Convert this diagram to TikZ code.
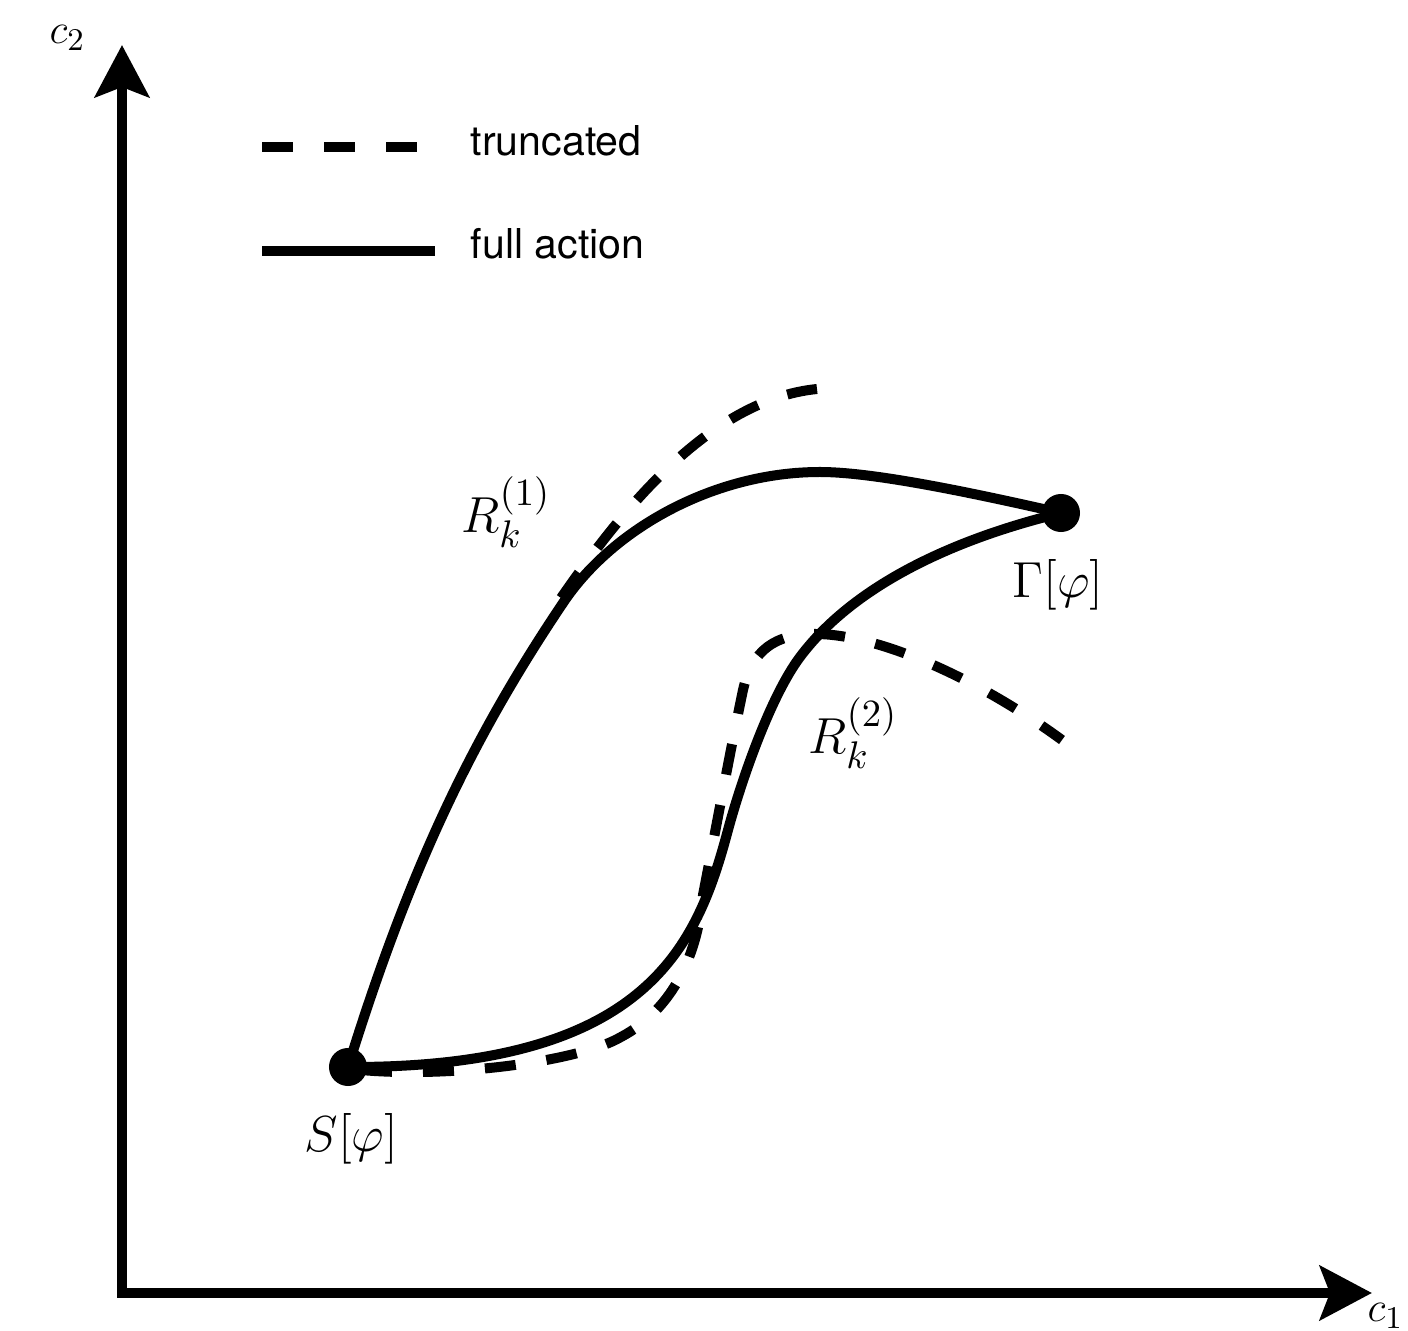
\documentclass[tikz,border=0pt]{standalone}
\usepackage{fontspec}
\newfontfamily\legendfont{TeX Gyre Heros}
\usetikzlibrary{arrows.meta}
\begin{document}
\begin{tikzpicture}[x=0.01cm,y=-0.01cm,
  axis/.style={line width=0.105cm, line join=miter},
  curve/.style={line width=0.1cm},
  dashcurve/.style={line width=0.1cm, dash pattern=on 0.31cm off 0.31cm},
  dot/.style={circle, fill=black, inner sep=0pt, minimum size=0.38cm},
  mlabel/.style={font=\fontsize{15}{18}\selectfont, inner sep=0pt, anchor=base west},
  alabel/.style={font=\fontsize{12.5}{15}\selectfont, inner sep=0pt, anchor=base west},
  leg/.style={font=\legendfont\fontsize{11.7}{14}\selectfont, inner sep=0pt, anchor=base west}]
\useasboundingbox (0,0) rectangle (1408,1331);

% axes
\coordinate (O) at (122,1293);
\coordinate (ytip) at (122,45);
\coordinate (xtip) at (1372,1293);
\draw[axis, {Stealth[length=0.52cm,width=0.54cm,inset=0.1cm]}-{Stealth[length=0.52cm,width=0.54cm,inset=0.1cm]}] (ytip) -- (O) -- (xtip);
\node[alabel] (c2) at (49,44) {$c_2$};
\node[alabel] (c1) at (1367,1322) {$c_1$};

% legend
\coordinate (d1) at (262,147); \coordinate (d2) at (418,147);
\coordinate (s1) at (262,251); \coordinate (s2) at (435,251);
\draw[dashcurve] (d1) -- (d2);
\draw[curve] (s1) -- (s2);
\node[leg] (lt) at (470,156) {truncated};
\node[leg] (lf) at (470,259) {full action};

% end points
\coordinate (Sc) at (348,1067);
\coordinate (Gc) at (1061,513);

% full action curves
\coordinate (u1) at (563,603);
\coordinate (u2) at (820,472);
\draw[curve] (Sc) .. controls (407,877) and (468,744) .. (u1)
  .. controls (613,528) and (715,472) .. (u2)
  .. controls (870,472) and (960,490) .. (Gc);
\coordinate (l2) at (728,830);
\coordinate (l3) at (800,657);
\draw[curve] (Sc) .. controls (648,1068) and (697,946) .. (l2)
  .. controls (741,782) and (770,697) .. (l3)
  .. controls (854,585) and (954,539) .. (Gc);

% truncated curves
\coordinate (ua) at (561,598);
\coordinate (ub) at (817,389);
\draw[dashcurve] (ua) .. controls (618,516) and (707,400) .. (ub);
\coordinate (la) at (361,1070);
\coordinate (lm1) at (621,1037);
\coordinate (lm2) at (703,895);
\coordinate (lm3) at (743,690);
\coordinate (lm4) at (815,634);
\coordinate (lb) at (1062,740);
\draw[dashcurve] (la) .. controls (450,1078) and (578,1062) .. (lm1)
  .. controls (668,1012) and (697,962) .. (lm2)
  .. controls (716,828) and (730,752) .. (lm3)
  .. controls (752,650) and (775,634) .. (lm4)
  .. controls (880,634) and (980,680) .. (lb);

% dots
\node[dot] (S) at (Sc) {};
\node[dot] (G) at (Gc) {};

% labels
\node[mlabel] (lS) at (304,1152) {$S[\varphi]$};
\node[mlabel] (lG) at (1012,598) {$\Gamma[\varphi]$};
\node[mlabel] (lR1) at (461,533) {$R_k^{(1)}$};
\node[mlabel] (lR2) at (808,754) {$R_k^{(2)}$};
\end{tikzpicture}
\end{document}
